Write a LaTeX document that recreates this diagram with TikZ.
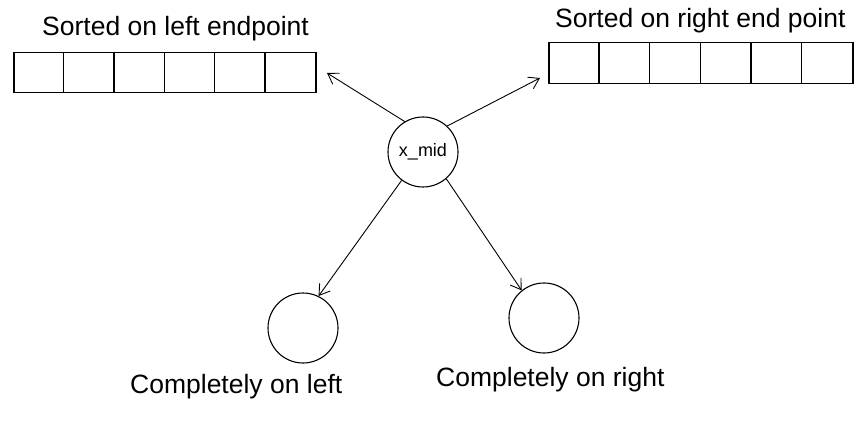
\documentclass[tikz,border=0pt]{standalone}
\usepackage{fontspec}
\setmainfont{Liberation Sans}
\usetikzlibrary{arrows.meta,calc}
\tikzset{
  arr/.style={draw, line width=1.2pt, minimum height=40.5pt, inner sep=0pt},
  cell/.style={line width=1.2pt},
  circ/.style={draw, circle, line width=1.1pt, minimum size=70pt, inner sep=0pt},
  lab/.style={font=\fontsize{26.5}{30}\selectfont, inner sep=0pt, anchor=base west},
  conn/.style={line width=0.9pt, -{Straight Barb[length=10pt,width=13pt,line width=0.9pt]}}
}
\begin{document}
\begin{tikzpicture}[x=1pt,y=-1pt]
\useasboundingbox (0,0) rectangle (854,422);
% labels
\node[lab] (tl) at (42,36) {Sorted on left endpoint};
\node[lab] (tr) at (555,28) {Sorted on right end point};
\node[lab] (bl) at (130,393) {Completely on left};
\node[lab] (br) at (436,386) {Completely on right};
% arrays
\node[arr, minimum width=302pt] (L) at (165,72.5) {};
\foreach \i in {1,...,5} \draw[cell] ($(L.north west)+(\i*50.33,0)$) -- ($(L.south west)+(\i*50.33,0)$);
\node[arr, minimum width=304pt] (R) at (701,63) {};
\foreach \i in {1,...,5} \draw[cell] ($(R.north west)+(\i*50.67,0)$) -- ($(R.south west)+(\i*50.67,0)$);
% circles
\node[circ, font=\fontsize{18}{20}\selectfont] (m) at (423,152) {\raisebox{4pt}{x\_mid}\hspace{4pt}};
\node[circ] (lc) at (303,328) {};
\node[circ] (rc) at (544,318) {};
\coordinate (Lt) at (327,73);
\coordinate (Rt) at (540,78);
% connectors
\draw[conn] (m.121) -- (Lt);
\draw[conn] (m.47) -- (Rt);
\draw[conn] (m.233) -- (lc.64);
\draw[conn] (m.311) -- (rc.129);
\end{tikzpicture}
\end{document}
